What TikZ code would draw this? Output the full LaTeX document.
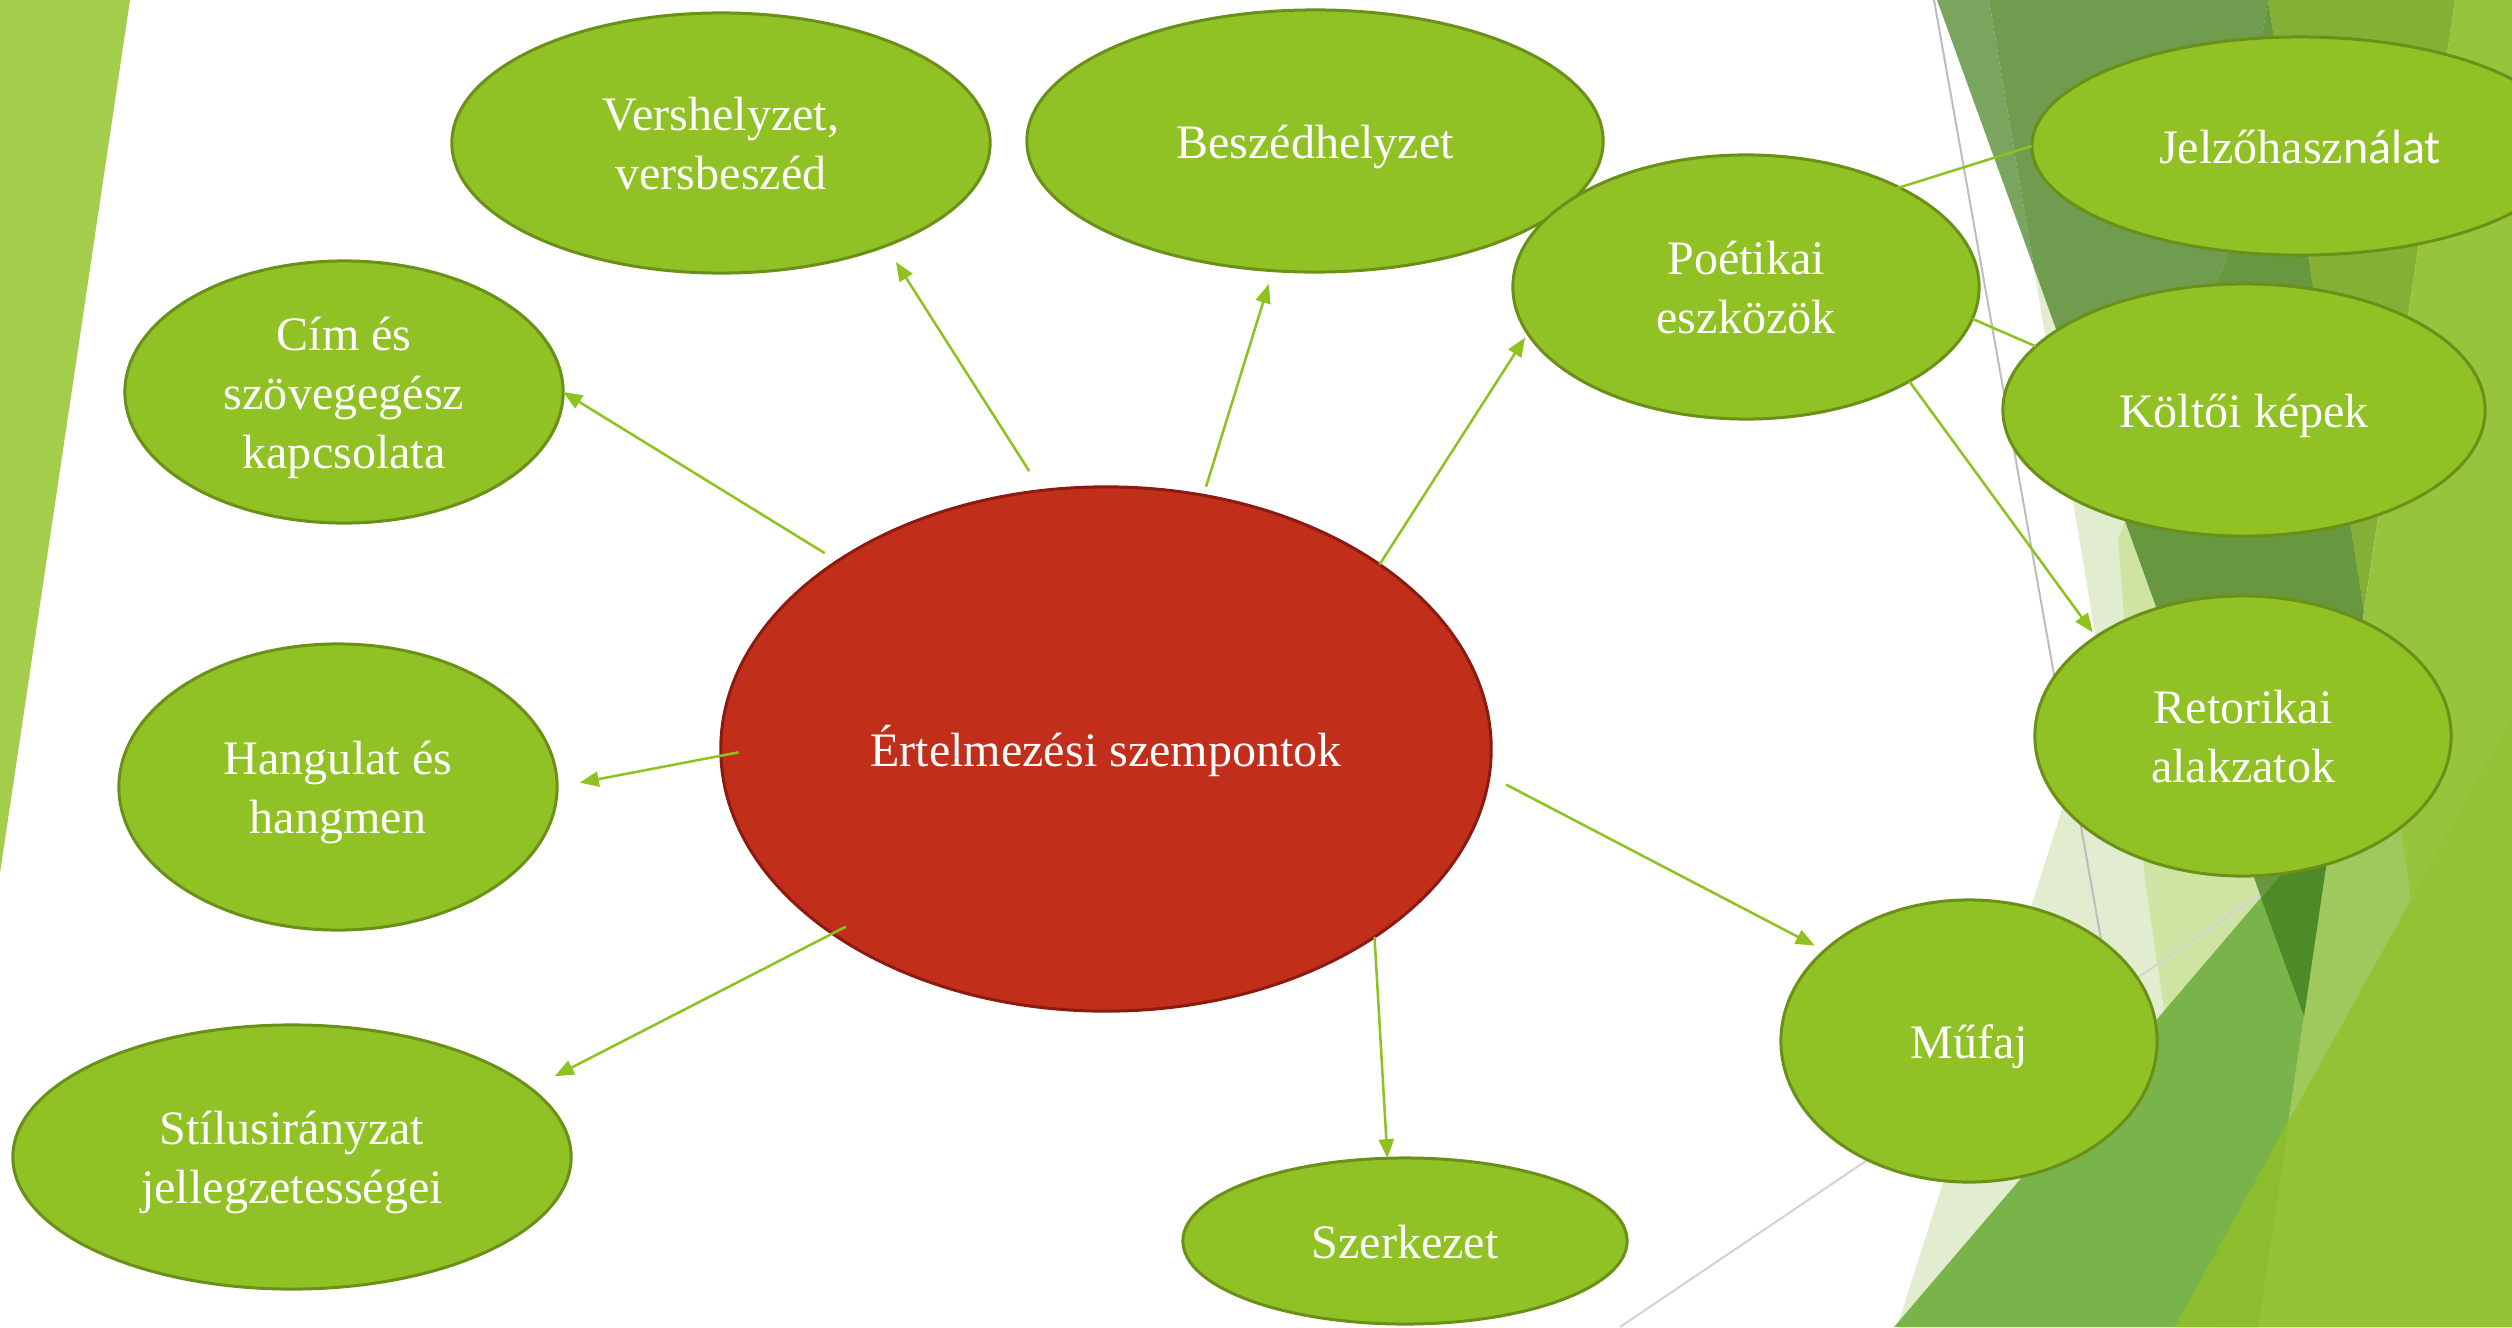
\documentclass[tikz,border=0pt]{standalone}
\usepackage{fontspec}
\setmainfont{Liberation Serif}
\newfontfamily\altsans{Carlito}
\usetikzlibrary{arrows.meta,shapes.geometric}
\definecolor{leaffill}{HTML}{90C226}
\definecolor{leafedge}{HTML}{6A9018}
\definecolor{hubfill}{HTML}{C12E1A}
\definecolor{hubedge}{HTML}{8B1A10}
\definecolor{connc}{HTML}{8DC21F}
\definecolor{stripec}{HTML}{A3CD4B}
\definecolor{palec}{HTML}{E2EDCF}
\definecolor{lgc}{HTML}{CFE4A2}
\definecolor{dOnec}{HTML}{7AA55E}
\definecolor{dTwoc}{HTML}{6F9C4F}
\definecolor{dThreec}{HTML}{67973F}
\definecolor{dFourc}{HTML}{4F8A28}
\definecolor{midc}{HTML}{84B135}
\definecolor{rightc}{HTML}{96C43D}
\definecolor{lrc}{HTML}{A0C95D}
\definecolor{gonec}{HTML}{78B44A}
\definecolor{gtwoc}{HTML}{93C335}
\definecolor{gmixc}{HTML}{8CBD2E}
\definecolor{greyone}{HTML}{BDBDBD}
\definecolor{greytwo}{HTML}{D2D2D2}
\newcommand{\ndfont}{\fontsize{13.66pt}{16.79pt}\selectfont}
\newcommand{\ndtext}[1]{\raisebox{-0.055cm}[\height][\depth]{\begin{tabular}{@{}c@{}}#1\end{tabular}}}
\begin{document}
\begin{tikzpicture}[x=0.01cm,y=-0.01cm,
  leaf/.style={ellipse, fill=leaffill, draw=leafedge, line width=0.03cm, inner sep=0pt, outer sep=0pt, text=white, font=\ndfont},
  hub/.style={ellipse, fill=hubfill, draw=hubedge, line width=0.03cm, inner sep=0pt, outer sep=0pt, text=white, font=\ndfont},
  conn/.style={draw=connc, line width=0.025cm, -{Triangle[length=0.19cm,width=0.15cm]}},
  link/.style={draw=connc, line width=0.025cm},
  bgline/.style={line width=0.02cm}]
\useasboundingbox (0,0) rectangle (2512,1327);
\clip (0,0) rectangle (2512,1327);
\fill[white] (0,0) rectangle (2512,1327);
% left stripe
\fill[stripec] (0,0) -- (130,0) -- (0,873) -- cycle;
% right facets
\fill[palec] (1989,0) -- (2103,681) -- (1897,1327) -- (2512,1327) -- (2512,0) -- cycle;
\fill[lgc] (2268,0) -- (2225,262) -- (2118,540) -- (2145,880) -- (2211,1327) -- (2512,1327) -- (2512,0) -- cycle;
\draw[bgline, greyone] (1934,0) -- (2170,1327);
\draw[bgline, greytwo] (1620,1327) -- (2300,868);
\fill[dOnec] (1937,0) -- (1989,0) -- (2034,268) -- cycle;
\fill[dTwoc] (1989,0) -- (2268,0) -- (2225,262) -- (2125,521) -- (2034,268) -- cycle;
\fill[midc] (2268,0) -- (2455,0) -- (2364,611) -- cycle;
\fill[dThreec] (2268,0) -- (2364,611) -- (2304,1016) -- (2125,521) -- (2225,262) -- cycle;
\fill[rightc] (2455,0) -- (2512,0) -- (2512,1327) -- (2258,1327) -- cycle;
\fill[lrc] (2333,820) -- (2400,820) -- (2411,901) -- (2289,1120) -- cycle;
\fill[gonec] (1894,1327) -- (2334,812) -- (2258,1327) -- cycle;
\fill[dFourc] (2261,898) -- (2334,812) -- (2304,1016) -- cycle;
\fill[gtwoc] (2175,1327) -- (2512,717) -- (2512,1327) -- cycle;
\fill[gmixc] (2175,1327) -- (2289,1120) -- (2258,1327) -- cycle;
% nodes
\node[hub, minimum width=7.70cm, minimum height=5.24cm] (hub) at (1106,749) {\ndtext{Értelmezési szempontok}};
\node[leaf, minimum width=5.38cm, minimum height=2.60cm] (vers) at (721,143) {\ndtext{Vershelyzet,\\versbeszéd}};
\node[leaf, minimum width=5.76cm, minimum height=2.62cm] (besz) at (1315,141) {\ndtext{Beszédhelyzet}};
\node[leaf, minimum width=4.66cm, minimum height=2.64cm] (poet) at (1746,287) {\ndtext{Poétikai\\eszközök}};
\node[leaf, minimum width=5.36cm, minimum height=2.18cm] (jel) at (2300,146) {\ndtext{Jelzőhasz{\altsans nálat}}};
\node[leaf, minimum width=4.82cm, minimum height=2.52cm] (kolt) at (2244,410) {\ndtext{Költői képek}};
\node[leaf, minimum width=4.16cm, minimum height=2.80cm] (ret) at (2243,736) {\ndtext{Retorikai\\alakzatok}};
\node[leaf, minimum width=3.76cm, minimum height=2.82cm] (muf) at (1969,1041) {\ndtext{Műfaj}};
\node[leaf, minimum width=4.44cm, minimum height=1.66cm] (szer) at (1405,1241) {\ndtext{Szerkezet}};
\node[leaf, minimum width=5.58cm, minimum height=2.64cm] (stil) at (292,1157) {\ndtext{Stílusirányzat\\jellegzetességei}};
\node[leaf, minimum width=4.38cm, minimum height=2.86cm] (hang) at (338,787) {\ndtext{Hangulat és\\hangmen}};
\node[leaf, minimum width=4.38cm, minimum height=2.62cm] (cim) at (344,392) {\ndtext{Cím és\\szövegegész\\kapcsolata}};
% connectors
\draw[conn, shorten <=0.15cm] (hub.145.3) -- (cim.east);
\draw[conn, shorten <=0.23cm, shorten >=0.19cm] (hub.104.3) -- (vers.328.4);
\draw[conn, shorten <=0.09cm, shorten >=0.14cm] (hub.69) -- (besz.252.5);
\draw[conn, shorten >=0.05cm] (hub.34.1) -- (poet.192.8);
\draw[conn, shorten <=-0.18cm, shorten >=0.23cm] (hub.181.5) -- (hang.0.3);
\draw[conn, shorten <=-0.15cm, shorten >=0.27cm] (hub.214.6) -- (stil.16.5);
\draw[conn] (hub.325.7) -- (szer.102.4);
\draw[conn, shorten <=0.19cm, shorten >=0.11cm] (hub.356.4) -- (muf.148.7);
\draw[link, shorten <=-0.07cm] (poet.33.4) -- (jel.west);
\draw[link] (poet.352.8) -- (kolt.163.8);
\draw[conn, shorten >=0.055cm] (poet.330.3) -- (ret.146.3);
\end{tikzpicture}
\end{document}
